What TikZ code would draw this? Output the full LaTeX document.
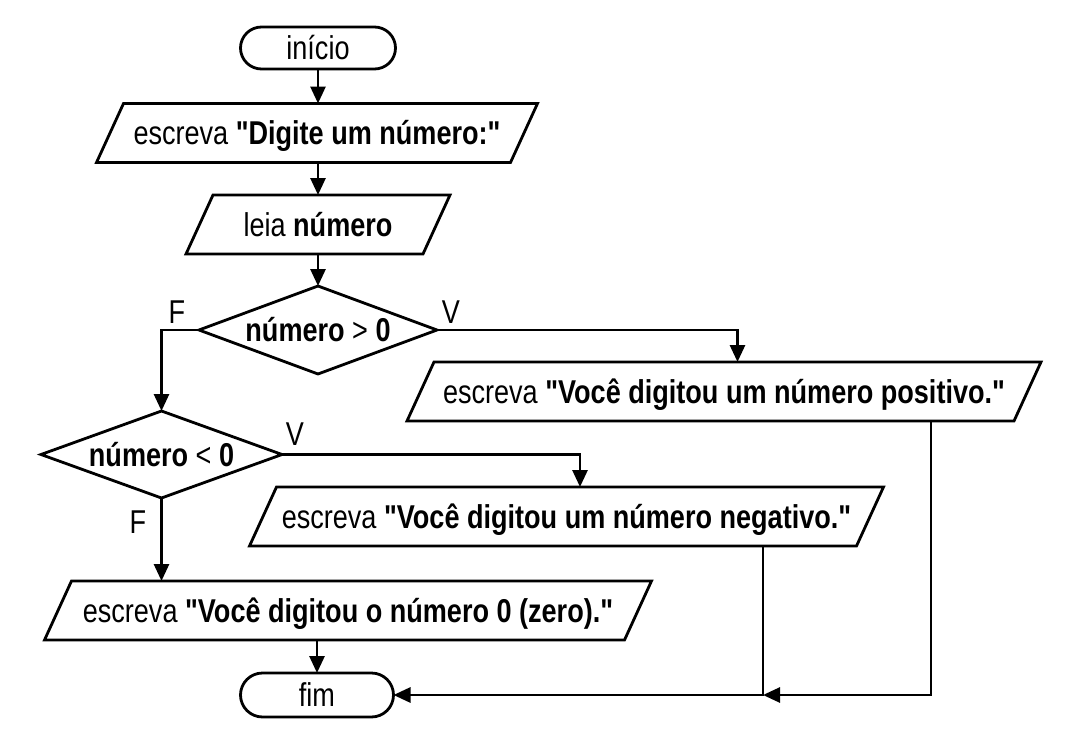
\documentclass[tikz,border=0pt]{standalone}
\usepackage{fontspec}
\setmainfont[FakeStretch=0.82, Ligatures=TeXOff]{Liberation Sans}
\usetikzlibrary{shapes.geometric,shapes.misc,arrows.meta}

% slanted outline drawn around an input/output text node
\newcommand\ioframe[1]{%
  \draw[ioline] ([xshift=-13.5pt]#1.south west) -- ([xshift=-13.5pt]#1.south east)
    -- ([xshift=13.5pt]#1.north east) -- ([xshift=13.5pt]#1.north west) -- cycle;}

\begin{document}
\begin{tikzpicture}[x=1pt,y=-1pt,
  every node/.style={font=\fontsize{33}{38}\selectfont, inner sep=0pt, outer sep=0pt,
                     text height=23.6pt, text depth=0pt},
  wire/.style={line width=2.8pt},
  arr/.style={wire, -{Triangle[length=17pt,width=15pt]}},
  terminal/.style={rounded rectangle, draw, wire, minimum width=155pt, minimum height=42pt},
  iotext/.style={rectangle, minimum height=59pt},
  ioline/.style={draw, wire, line join=miter},
  decision/.style={diamond, draw, wire, aspect=2.7}
]
\useasboundingbox (0,0) rectangle (1066,736);

% blocks
\node[terminal] (start) at (318,48) {início};
\node[iotext, minimum width=414pt] (ask) at (317,133) {escreva \textbf{"Digite um número:"}};
\node[iotext, minimum width=237pt] (read) at (318,224.5) {leia \textbf{número}};
\node[decision, minimum width=238pt, minimum height=88pt] (gt) at (318,330) {\textbf{número} > \textbf{0}};
\node[iotext, minimum width=607pt] (pos) at (724,391.5) {escreva \textbf{"Você digitou um número positivo."}};
\node[decision, minimum width=241pt, minimum height=87pt] (lt) at (161.5,454.5) {\textbf{número} < \textbf{0}};
\node[iotext, minimum width=607pt] (neg) at (566.5,516.5) {escreva \textbf{"Você digitou um número negativo."}};
\node[iotext, minimum width=580pt] (zero) at (348,610.5) {escreva \textbf{"Você digitou o número 0 (zero)."}};
\node[terminal, minimum width=153pt, minimum height=44pt] (stop) at (317,695) {fim};

\ioframe{ask}
\ioframe{read}
\ioframe{pos}
\ioframe{neg}
\ioframe{zero}

% branch labels
\node (f1) at (177,312) {F};
\node (v1) at (451,312) {V};
\node (v2) at (295,434) {V};
\node (f2) at (138,522) {F};

% connectors
\draw[arr] (start.south) -- (start.south |- ask.north);
\draw[arr] (ask.south -| read.north) -- (read.north);
\draw[arr] (read.south) -- (gt.north);
\draw[arr] (gt.west) -| (lt.north);
\draw[arr] (gt.east) -| ([xshift=13.5pt]pos.north);
\draw[arr] (lt.east) -| ([xshift=13.5pt]neg.north);
\draw[arr] (lt.south) -- (lt.south |- zero.north);
\draw[arr] (zero.south -| stop.north) -- (stop.north);

\path ([xshift=207pt]pos.south) coordinate (posout);
\path ([xshift=196.5pt]neg.south) coordinate (negout);
\path (negout |- stop.east) coordinate (join);
\draw[arr] (posout) |- (join);
\draw[arr] (negout) |- (stop.east);
\end{tikzpicture}
\end{document}
